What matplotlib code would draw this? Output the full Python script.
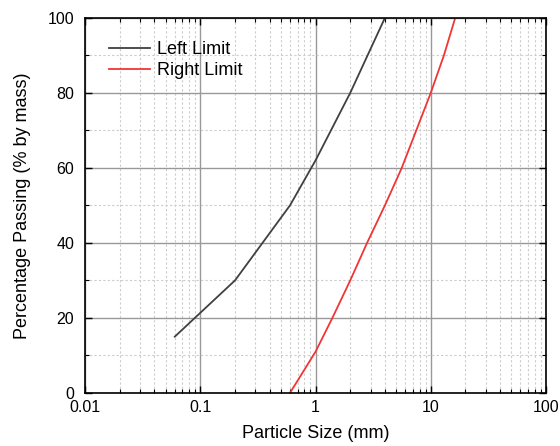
import numpy as np
import matplotlib.pyplot as plt
from matplotlib.ticker import LogLocator, MultipleLocator, FixedFormatter, FixedLocator, NullFormatter

plt.rcParams['font.family'] = ['Liberation Sans', 'DejaVu Sans']

# Grading limits (particle size in mm, % passing)
left_size = [0.06, 0.2, 0.6, 1, 2, 4]
left_pass = [15, 30, 50, 62, 80, 100]

right_size = [0.6, 1, 1.4, 2, 2.8, 4, 5.6, 10, 13, 16.3]
right_pass = [0, 11, 20, 30, 40, 50, 60, 80, 90, 100]

x_ticks = [0.01, 0.1, 1, 10, 100]
x_tick_labels = ['0.01', '0.1', '1', '10', '100']

fig = plt.figure(figsize=(5.6, 4.46), dpi=100)
ax = fig.add_axes([0.152, 0.119, 0.823, 0.841])

ax.plot(left_size, left_pass, color='#404040', lw=1.3, label='Left Limit')
ax.plot(right_size, right_pass, color='#f03535', lw=1.3, label='Right Limit')

ax.set_xscale('log')
ax.set_xlim(0.01, 100)
ax.set_ylim(0, 100)
ax.xaxis.set_major_locator(FixedLocator(x_ticks))
ax.xaxis.set_major_formatter(FixedFormatter(x_tick_labels))
ax.xaxis.set_minor_locator(LogLocator(base=10, subs=np.arange(2, 10), numticks=20))
ax.xaxis.set_minor_formatter(NullFormatter())
ax.yaxis.set_major_locator(MultipleLocator(20))
ax.yaxis.set_minor_locator(MultipleLocator(10))

ax.grid(True, which='major', color='#999999', lw=1.0, ls='-')
ax.grid(True, which='minor', color='#cccccc', lw=0.8, ls=(0, (2, 2)))
ax.set_axisbelow(True)

ax.tick_params(which='both', direction='in', top=True, right=True, labelsize=11.5)
ax.tick_params(axis='x', which='major', pad=5)
ax.tick_params(axis='y', which='major', pad=8)
ax.tick_params(which='major', length=5, width=1)
ax.tick_params(which='minor', length=3, width=0.8)
for s in ax.spines.values():
    s.set_linewidth(1.2)

ax.set_xlabel('Particle Size (mm)', fontsize=13, labelpad=7)
ax.set_ylabel('Percentage Passing (% by mass)', fontsize=13, labelpad=12)
ax.legend(loc='upper left', frameon=False, fontsize=13, handlelength=2.3,
          handletextpad=0.4, borderaxespad=0.9, labelspacing=0.2)

fig.savefig('out.png', dpi=100)
